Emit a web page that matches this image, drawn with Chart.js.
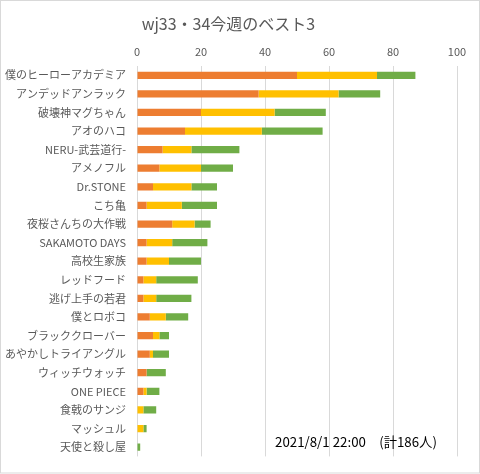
<!DOCTYPE html>
<html>
<head>
<meta charset="utf-8">
<script src="https://cdn.jsdelivr.net/npm/chart.js@4/dist/chart.umd.min.js"></script>
<style>
  html, body { margin: 0; padding: 0; background: #fff; }
  #wrap { width: 480px; height: 474px; }
</style>
</head>
<body>
<div id="wrap"><canvas id="c" width="480" height="474"></canvas></div>
<script>
const titleText = 'wj33・34今週のベスト3';
const noteText = '2021/8/1 22:00　(計186人)';
const categories = [
  '僕のヒーローアカデミア', 'アンデッドアンラック', '破壊神マグちゃん', 'アオのハコ',
  'NERU-武芸道行-', 'アメノフル', 'Dr.STONE', 'こち亀', '夜桜さんちの大作戦',
  'SAKAMOTO DAYS', '高校生家族', 'レッドフード', '逃げ上手の若君', '僕とロボコ',
  'ブラッククローバー', 'あやかしトライアングル', 'ウィッチウォッチ', 'ONE PIECE',
  '食戟のサンジ', 'マッシュル', '天使と殺し屋'
];
const seriesNames = ['1位', '2位', '3位'];
const first  = [50, 38, 20, 15, 8, 7, 5, 3, 11, 3, 3, 2, 2, 4, 5, 4, 3, 2, 0, 0, 0];
const second = [25, 25, 23, 24, 9, 13, 12, 11, 7, 8, 7, 4, 4, 5, 2, 1, 0, 1, 2, 2, 0];
const third  = [12, 13, 16, 19, 15, 10, 8, 11, 5, 11, 10, 13, 11, 7, 3, 5, 6, 4, 4, 1, 1];
const xTicks = [0, 20, 40, 60, 80, 100];

const FONT = '"Noto Sans CJK JP", "Noto Sans", sans-serif';
const colors = ['#ED7D31', '#FFC000', '#70AD47'];

const framePlugin = {
  id: 'frame',
  beforeDraw(chart) {
    const ctx = chart.ctx;
    ctx.save();
    ctx.fillStyle = '#ffffff';
    ctx.fillRect(0, 0, chart.width, chart.height);
    ctx.restore();
  },
  afterDraw(chart) {
    const ctx = chart.ctx;
    ctx.save();
    ctx.strokeStyle = '#d9d9d9';
    ctx.lineWidth = 1;
    ctx.strokeRect(0.5, 0.5, chart.width - 1, chart.height - 1.5);
    ctx.fillStyle = '#000000';
    ctx.font = '13.3px ' + FONT;
    ctx.textBaseline = 'middle';
    ctx.textAlign = 'left';
    ctx.fillText(noteText, 275, 442);
    ctx.restore();
  }
};

new Chart(document.getElementById('c'), {
  type: 'bar',
  data: {
    labels: categories,
    datasets: [first, second, third].map((d, i) => ({
      label: seriesNames[i],
      data: d,
      backgroundColor: colors[i],
      borderWidth: 0,
      barPercentage: 0.39,
      categoryPercentage: 1
    }))
  },
  options: {
    indexAxis: 'y',
    responsive: false,
    animation: false,
    layout: { padding: { left: 0, right: 23, top: 0, bottom: 15 } },
    plugins: {
      legend: { display: false },
      tooltip: { enabled: false },
      title: {
        display: true,
        text: titleText,
        color: '#595959',
        font: { family: FONT, size: 16, weight: 'normal' },
        padding: { top: 14, bottom: 11.6 }
      }
    },
    scales: {
      x: {
        position: 'top',
        stacked: true,
        min: 0,
        max: 100,
        afterBuildTicks(axis) { axis.ticks = xTicks.map(v => ({ value: v })); },
        afterFit(axis) { axis.height = 21.2; },
        ticks: {
          color: '#595959',
          font: { family: FONT, size: 11 },
          padding: 8
        },
        grid: { color: '#d9d9d9', drawTicks: false, lineWidth: 1 },
        border: { display: false }
      },
      y: {
        stacked: true,
        afterFit(axis) { axis.width = 137; },
        ticks: {
          color: '#595959',
          font: { family: FONT, size: 11 },
          padding: 11,
          autoSkip: false
        },
        grid: { display: false, drawTicks: false },
        border: { display: false }
      }
    }
  },
  plugins: [framePlugin]
});
</script>
</body>
</html>
